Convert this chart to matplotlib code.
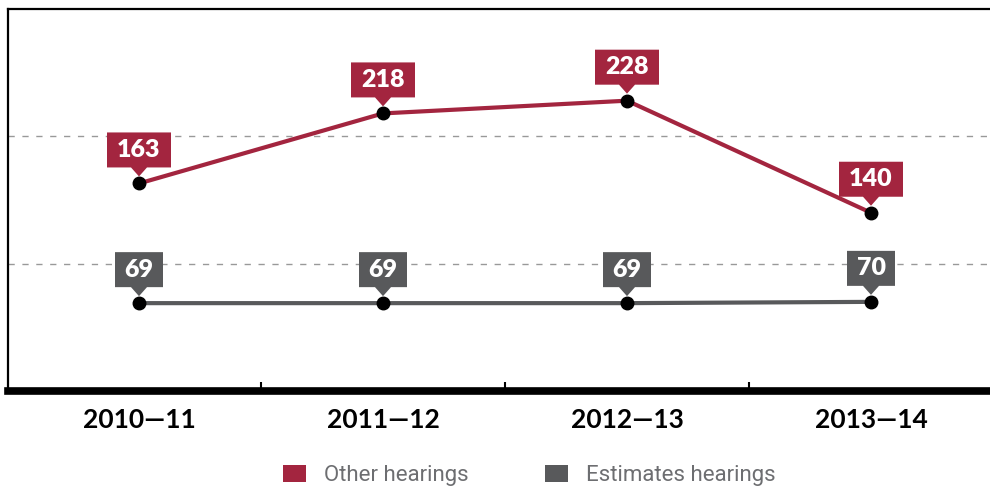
import matplotlib
matplotlib.use("Agg")
import matplotlib.pyplot as plt
import matplotlib.transforms as mtransforms
from matplotlib.patches import Polygon, Rectangle

# ── data ─────────────────────────────────────────────────────
years = ["2010—11", "2011—12", "2012—13", "2013—14"]
other_hearings = [163, 218, 228, 140]
estimates_hearings = [69, 69, 69, 70]

RED = "#a3253f"
GREY = "#58595b"

W, H = 990, 487
fig = plt.figure(figsize=(W / 100, H / 100), dpi=100)
ax = fig.add_axes([8 / W, 1 - 391 / H, (996 - 8) / W, (391 - 9) / H])

x = list(range(len(years)))
ax.set_xlim((8 - 139) / 244, (996 - 139) / 244)
ax.set_ylim(0, 300)

for v in (100, 200):
    ax.axhline(v, color="#999999", lw=1, dashes=(4.5, 5.5), zorder=1)

for vals, col in [(other_hearings, RED), (estimates_hearings, GREY)]:
    ax.plot(x, vals, color=col, lw=3, zorder=2, solid_capstyle="butt")
    ax.plot(x, vals, "o", color="black", ms=9, zorder=4)


def callout(xi, v, label, col):
    # box with little pointer, sizes in pixels -> inches
    bw = (16 * len(label) + 16) / 100
    bh = 35 / 100
    b = 16 / 100
    tip = 7 / 100
    tw = 8 / 100
    verts = [(-bw / 2, b), (-tw, b), (0, tip), (tw, b), (bw / 2, b),
             (bw / 2, b + bh), (-bw / 2, b + bh)]
    trans = fig.dpi_scale_trans + mtransforms.ScaledTranslation(xi, v, ax.transData)
    ax.add_patch(Polygon(verts, closed=True, fc=col, ec="none",
                         transform=trans, zorder=3, clip_on=False))
    ax.text(0, b + bh / 2, label, transform=trans, ha="center", va="center",
            color="white", fontsize=18, fontweight="heavy", family="Lato",
            zorder=5)


for xi, v in zip(x, other_hearings):
    callout(xi, v, str(v), RED)
for xi, v in zip(x, estimates_hearings):
    callout(xi, v, str(v), GREY)

# axes frame
ax.spines["right"].set_visible(False)
ax.spines["top"].set_linewidth(1.6)
ax.spines["left"].set_linewidth(1.6)
ax.spines["bottom"].set_linewidth(5.5)
ax.set_yticks([])
ax.set_xticks(x)
ax.set_xticklabels(years, fontsize=19, fontweight="bold", family="Lato")
ax.tick_params(axis="x", length=0, pad=12)
ax.set_xticks([0.5, 1.5, 2.5], minor=True)
ax.tick_params(axis="x", which="minor", direction="in", length=6.5, width=1.5,
               color="black")

# legend, drawn by hand at the bottom
legend = [("Other hearings", RED, 283), ("Estimates hearings", GREY, 545)]
for name, col, px in legend:
    fig.patches.append(Rectangle((px / W, 1 - 482 / H), 23 / W, 17 / H,
                                 fc=col, ec="none", transform=fig.transFigure))
    fig.text((px + 41) / W, 1 - 481 / H, name, fontsize=16, color="#6d6e71",
             family="Roboto", va="baseline", ha="left")

fig.savefig("out.png", dpi=100)
